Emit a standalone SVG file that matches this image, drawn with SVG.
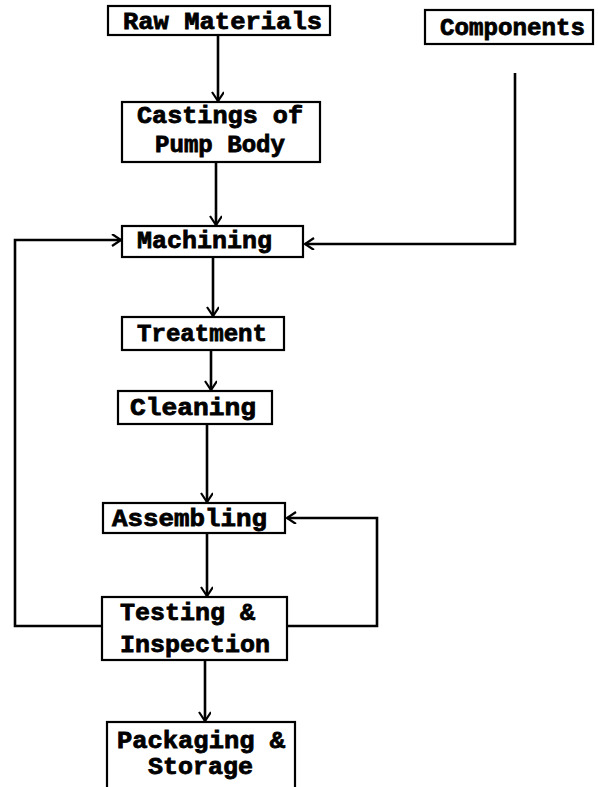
<svg xmlns="http://www.w3.org/2000/svg" width="598" height="787" viewBox="0 0 598 787">
<style>
  .box { fill: #fff; stroke: #000; stroke-width: 2.2; }
  .lbl { font-family: "Liberation Mono", "DejaVu Sans Mono", monospace; font-weight: bold; font-size: 24px; fill: #000; stroke: #000; stroke-width: 0.8; }
  .con { fill: none; stroke: #000; stroke-width: 2.6; }
</style>
<defs>
  <marker id="arr" markerUnits="userSpaceOnUse" markerWidth="14" markerHeight="14" refX="11" refY="6" orient="auto">
    <path d="M2,0 L11,6 L2,12" fill="none" stroke="#000" stroke-width="2.2"/>
  </marker>
</defs>
<rect width="598" height="787" fill="#fff"/>

<g id="connectors">
  <path class="con" d="M218,35 V101" marker-end="url(#arr)"/>
  <path class="con" d="M216,162 V225" marker-end="url(#arr)"/>
  <path class="con" d="M213,257 V316" marker-end="url(#arr)"/>
  <path class="con" d="M211,350 V390" marker-end="url(#arr)"/>
  <path class="con" d="M207,424 V502" marker-end="url(#arr)"/>
  <path class="con" d="M207,533 V596" marker-end="url(#arr)"/>
  <path class="con" d="M205,660 V721" marker-end="url(#arr)"/>
  <path class="con" d="M515,73 V244 H305" marker-end="url(#arr)"/>
  <path class="con" d="M102,626 H15 V240 H121" marker-end="url(#arr)"/>
  <path class="con" d="M287,626 H377 V518 H287" marker-end="url(#arr)"/>
</g>

<g id="raw-materials">
  <rect class="box" x="108" y="6" width="222" height="29"/>
  <text class="lbl" x="123" y="29" textLength="199" lengthAdjust="spacingAndGlyphs">Raw Materials</text>
</g>
<g id="components">
  <rect class="box" x="425" y="10" width="168" height="34"/>
  <text class="lbl" x="440" y="35" textLength="145" lengthAdjust="spacingAndGlyphs">Components</text>
</g>
<g id="castings">
  <rect class="box" x="122" y="102" width="198" height="60"/>
  <text class="lbl" x="137" y="123" textLength="166" lengthAdjust="spacingAndGlyphs">Castings of</text>
  <text class="lbl" x="155" y="152" textLength="130" lengthAdjust="spacingAndGlyphs">Pump Body</text>
</g>
<g id="machining">
  <rect class="box" x="122" y="226" width="181" height="31"/>
  <text class="lbl" x="137" y="248" textLength="135" lengthAdjust="spacingAndGlyphs">Machining</text>
</g>
<g id="treatment">
  <rect class="box" x="122" y="317" width="162" height="33"/>
  <text class="lbl" x="137" y="341" textLength="130" lengthAdjust="spacingAndGlyphs">Treatment</text>
</g>
<g id="cleaning">
  <rect class="box" x="118" y="391" width="154" height="33"/>
  <text class="lbl" x="130" y="415" textLength="126" lengthAdjust="spacingAndGlyphs">Cleaning</text>
</g>
<g id="assembling">
  <rect class="box" x="103" y="503" width="182" height="30"/>
  <text class="lbl" x="112" y="526" textLength="155" lengthAdjust="spacingAndGlyphs">Assembling</text>
</g>
<g id="testing">
  <rect class="box" x="102" y="597" width="185" height="63"/>
  <text class="lbl" x="120" y="620" textLength="135" lengthAdjust="spacingAndGlyphs">Testing &amp;</text>
  <text class="lbl" x="120" y="652" textLength="150" lengthAdjust="spacingAndGlyphs">Inspection</text>
</g>
<g id="packaging">
  <rect class="box" x="107" y="722" width="188" height="70"/>
  <text class="lbl" x="117" y="748" textLength="168" lengthAdjust="spacingAndGlyphs">Packaging &amp;</text>
  <text class="lbl" x="148" y="774" textLength="105" lengthAdjust="spacingAndGlyphs">Storage</text>
</g>
</svg>
